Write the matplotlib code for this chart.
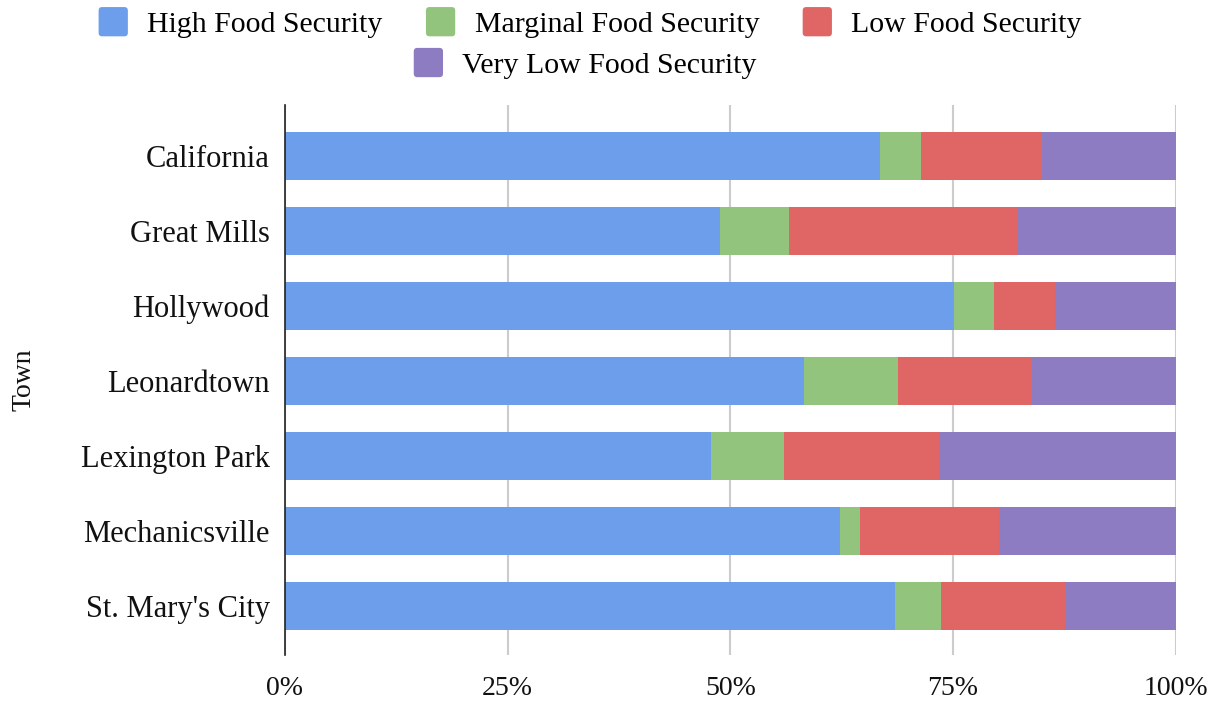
import matplotlib.pyplot as plt
from matplotlib.patches import Patch, FancyBboxPatch
from matplotlib.legend_handler import HandlerPatch
from matplotlib.ticker import PercentFormatter

plt.rcParams['font.family'] = ['Liberation Serif', 'DejaVu Serif']

towns = ['California', 'Great Mills', 'Hollywood', 'Leonardtown',
         'Lexington Park', 'Mechanicsville', "St. Mary's City"]

# share of households in each category (%)
high = [66.8, 48.9, 75.1, 58.3, 47.8, 62.3, 68.5]
marginal = [4.6, 7.7, 4.5, 10.5, 8.2, 2.3, 5.2]
low = [13.6, 25.6, 6.9, 15.1, 17.4, 15.6, 13.9]
very_low = [15.0, 17.8, 13.5, 16.1, 26.6, 19.8, 12.4]

series = [('High Food Security', high, '#6d9eeb'),
          ('Marginal Food Security', marginal, '#93c47d'),
          ('Low Food Security', low, '#e06666'),
          ('Very Low Food Security', very_low, '#8e7cc3')]


class RoundedSquare(HandlerPatch):
    # legend key drawn as a rounded square, as tall as it is wide
    def create_artists(self, legend, orig_handle, xdescent, ydescent,
                       width, height, fontsize, trans):
        side = width
        r = side * 0.12
        x0 = -xdescent
        y0 = -ydescent + (height - side) / 2
        p = FancyBboxPatch((x0 + r, y0 + r), side - 2 * r, side - 2 * r,
                           boxstyle='round,pad=%f' % r,
                           facecolor=orig_handle.get_facecolor(), edgecolor='none',
                           transform=trans)
        return [p]


fig = plt.figure(figsize=(12.22, 7.04), dpi=100)
ax = fig.add_axes([0.2332, 0.0696, 0.7288, 0.7814])

left = [0] * len(towns)
handles = []
for name, vals, color in series:
    ax.barh(towns, vals, left=left, height=0.64, color=color, label=name)
    left = [a + b for a, b in zip(left, vals)]
    handles.append(Patch(facecolor=color, label=name))

ax.set_xlim(0, 100)
ax.set_ylim(6.66, -0.68)
ax.set_xticks([0, 25, 50, 75, 100])
ax.xaxis.set_major_formatter(PercentFormatter(decimals=0))
ax.grid(axis='x', color='#cccccc', linewidth=1.5)
ax.set_axisbelow(True)
for s in ['top', 'right', 'bottom']:
    ax.spines[s].set_visible(False)
ax.spines['left'].set_color('#222222')
ax.spines['left'].set_linewidth(1.2)
ax.tick_params(axis='both', length=0, colors='#111111')
ax.tick_params(axis='x', pad=15, labelsize=20)
ax.tick_params(axis='y', pad=11, labelsize=22)
ax.set_ylabel('Town', fontsize=20, color='#111111', labelpad=32)

leg_kw = dict(frameon=False, fontsize=21.5, handlelength=0.98, handleheight=0.98,
              handletextpad=0.65, columnspacing=1.45, borderpad=0,
              handler_map={Patch: RoundedSquare()})
fig.legend(handles=handles[:3], ncol=3, loc='center',
           bbox_to_anchor=(0.483, 0.967), **leg_kw)
fig.legend(handles=handles[3:], ncol=1, loc='center',
           bbox_to_anchor=(0.479, 0.909), **leg_kw)

fig.savefig('out.png', dpi=100)
